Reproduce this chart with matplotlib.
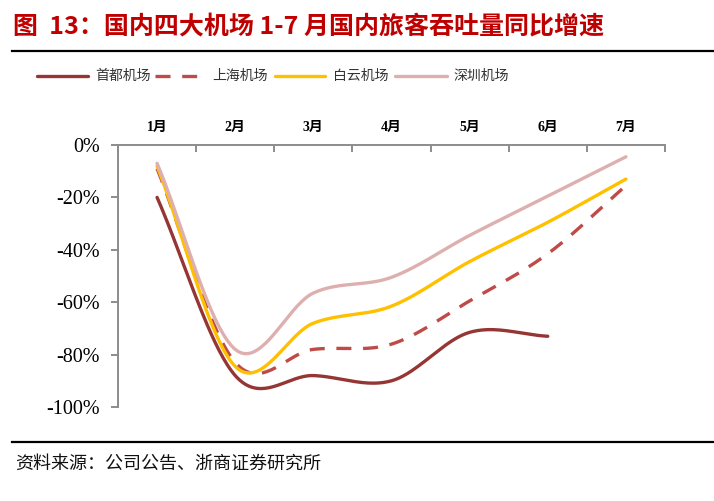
import numpy as np
import matplotlib
matplotlib.use("Agg")
import matplotlib.pyplot as plt
from matplotlib.lines import Line2D

months = ["1月", "2月", "3月", "4月", "5月", "6月", "7月"]
capital = [-20, -88, -88, -90, -71.5, -73]          # 首都机场 (Jan-Jun)
shanghai = [-9, -83, -78, -76, -59.5, -41.5, -15.5]  # 上海机场
baiyun = [-8, -84.5, -68, -61.5, -44.5, -29.5, -13]  # 白云机场
shenzhen = [-7, -78, -56.5, -50.5, -34.5, -19.5, -4.5]  # 深圳机场
series_names = ["首都机场", "上海机场", "白云机场", "深圳机场"]
yticks = [0, -20, -40, -60, -80, -100]

CJK = ["Noto Sans CJK SC", "DejaVu Sans"]
SERIF = ["Liberation Serif", "Noto Sans CJK SC"]


def smooth(xs, ys, n=40):
    """Catmull-Rom style (Excel-like) smoothed curve through points."""
    xs = np.asarray(xs, float)
    ys = np.asarray(ys, float)
    px = np.concatenate([[2 * xs[0] - xs[1]], xs, [2 * xs[-1] - xs[-2]]])
    py = np.concatenate([[2 * ys[0] - ys[1]], ys, [2 * ys[-1] - ys[-2]]])
    outx, outy = [], []
    for i in range(1, len(px) - 2):
        p0x, p1x, p2x, p3x = px[i - 1], px[i], px[i + 1], px[i + 2]
        p0y, p1y, p2y, p3y = py[i - 1], py[i], py[i + 1], py[i + 2]
        c1x = p1x + (p2x - p0x) / 6
        c1y = p1y + (p2y - p0y) / 6
        c2x = p2x - (p3x - p1x) / 6
        c2y = p2y - (p3y - p1y) / 6
        t = np.linspace(0, 1, n)
        bx = (1 - t) ** 3 * p1x + 3 * (1 - t) ** 2 * t * c1x + 3 * (1 - t) * t ** 2 * c2x + t ** 3 * p2x
        by = (1 - t) ** 3 * p1y + 3 * (1 - t) ** 2 * t * c1y + 3 * (1 - t) * t ** 2 * c2y + t ** 3 * p2y
        outx.extend(bx)
        outy.extend(by)
    return np.array(outx), np.array(outy)


W, H = 714, 501
fig = plt.figure(figsize=(W / 100, H / 100), dpi=100)

ax = fig.add_axes([118 / W, 1 - 407 / H, 547 / W, 262 / H])

colors = ["#963634", "#BE4B48", "#FFC000", "#DDB0AF"]
styles = [dict(lw=2.4), dict(lw=2.4, dashes=(4.5, 3.5)), dict(lw=2.4), dict(lw=2.4)]
data = [capital, shanghai, baiyun, shenzhen]
for i in [0, 1, 2, 3]:
    ys = data[i]
    xs = np.arange(1, len(ys) + 1)
    sx, sy = smooth(xs, ys)
    ax.plot(sx, sy, color=colors[i], solid_capstyle="round", zorder=3 + i * 0.1, **styles[i])

ax.set_xlim(0.5, 7.5)
ax.set_ylim(-100, 0)

for s in ["right", "bottom"]:
    ax.spines[s].set_visible(False)
for s in ["left", "top"]:
    ax.spines[s].set_color("#8C8C8C")
    ax.spines[s].set_linewidth(1.4)

ax.set_yticks(yticks)
ax.set_yticklabels([f"{v}%" for v in yticks], fontfamily=SERIF, fontsize=14.5)
ax.tick_params(axis="y", direction="out", length=5, width=1.4, color="#8C8C8C", pad=8)

ax.xaxis.tick_top()
ax.set_xticks(np.arange(0.5, 7.6, 1))
ax.set_xticklabels([])
ax.tick_params(axis="x", which="major", direction="in", length=5, width=1.4, color="#8C8C8C")
ax.set_xticks(np.arange(1, 8), minor=True)
ax.set_xticklabels(months, minor=True, fontfamily=SERIF, fontsize=10, fontweight="bold")
ax.tick_params(axis="x", which="minor", length=0, pad=8, top=True, labeltop=True,
               bottom=False, labelbottom=False)

# Title
fig.text(13 / W, 1 - 27 / H, "图  13：国内四大机场 1-7 月国内旅客吞吐量同比增速",
         fontfamily=CJK, fontsize=18, fontweight="bold", color="#C00000",
         ha="left", va="center")
fig.add_artist(Line2D([12 / W, 713 / W], [1 - 51 / H, 1 - 51 / H], color="black", lw=1.6))

# Legend
leg_y = 1 - 76 / H
leg_items = [(37, 88, 95), (155, 205, 212), (275, 325, 333), (395, 447, 453)]
for i, (x0, x1, xt) in enumerate(leg_items):
    kw = dict(color=colors[i], lw=2.4, solid_capstyle="round")
    if i == 1:
        kw["dashes"] = (4.5, 3.5)
    fig.add_artist(Line2D([x0 / W, x1 / W], [leg_y, leg_y], **kw))
    fig.text(xt / W, leg_y, series_names[i], fontfamily=CJK, fontsize=10,
             color="#333333", ha="left", va="center")

# Source
fig.add_artist(Line2D([12 / W, 713 / W], [1 - 442 / H, 1 - 442 / H], color="black", lw=1.6))
fig.text(15 / W, 1 - 464 / H, "资料来源：公司公告、浙商证券研究所",
         fontfamily=CJK, fontsize=13, color="#111111", ha="left", va="center")

fig.savefig("out.png", dpi=100)
